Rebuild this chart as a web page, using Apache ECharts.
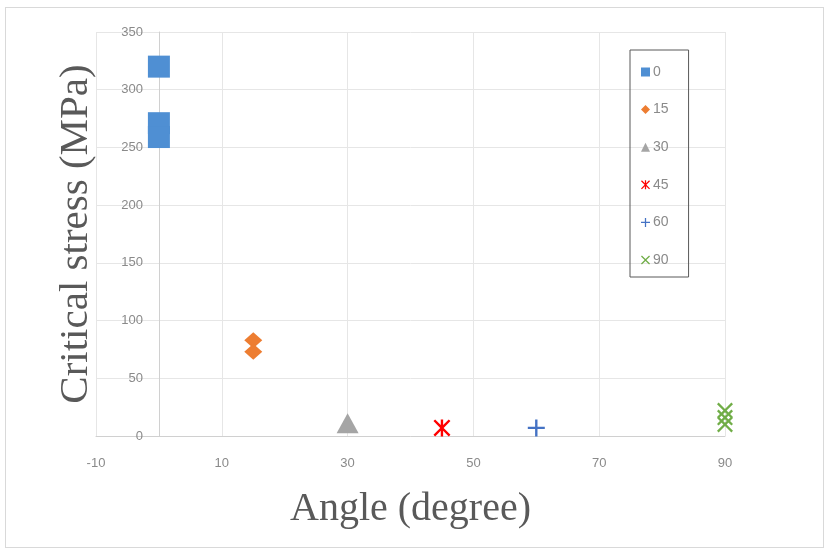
<!DOCTYPE html>
<html>
<head>
<meta charset="utf-8">
<script src="https://cdn.jsdelivr.net/npm/echarts@6/dist/echarts.min.js"></script>
<style>
html,body{margin:0;padding:0;background:#fff;}
#frame{position:absolute;left:5px;top:7px;width:819px;height:541px;border:1px solid #d9d9d9;box-sizing:border-box;}
#chart{position:absolute;left:0;top:0;width:830px;height:551px;}
</style>
</head>
<body>
<div id="frame"></div>
<div id="chart"></div>
<script>
const seriesNames = ['0', '15', '30', '45', '60', '90'];
const angles = [0, 15, 30, 45, 60, 90];
const stress0 = [320, 271, 259];
const stress15 = [83, 73];
const stress30 = [11];
const stress45 = [7];
const stress60 = [7];
const stress90 = [22, 16, 10];
const xTicks = [-10, 10, 30, 50, 70, 90];
const yTicks = [0, 50, 100, 150, 200, 250, 300, 350];

const allStress = [stress0, stress15, stress30, stress45, stress60, stress90];
const colors = ['#4f8fd3', '#ed7d31', '#a5a5a5', '#ff0000', '#4472c4', '#70ad47'];
const plusPath = 'path://M4.3,0 L5.7,0 L5.7,4.3 L10,4.3 L10,5.7 L5.7,5.7 L5.7,10 L4.3,10 L4.3,5.7 L0,5.7 L0,4.3 L4.3,4.3 Z';
const xPath = 'path://M1,0 L5,4 L9,0 L10,1 L6,5 L10,9 L9,10 L5,6 L1,10 L0,9 L4,5 L0,1 Z';
const starPath = 'path://M1,0 L4.3,3.3 L4.3,0 L5.7,0 L5.7,3.3 L9,0 L10,1 L6,5 L10,9 L9,10 L5.7,6.7 L5.7,10 L4.3,10 L4.3,6.7 L1,10 L0,9 L4,5 L0,1 Z';
const symbols = ['rect', 'diamond', 'triangle', starPath, plusPath, xPath];
const sizes = [22, [18, 16], [22, 20], 17, 17, 16];

const series = seriesNames.map((n, i) => ({
  name: n,
  type: 'scatter',
  symbol: symbols[i],
  symbolSize: sizes[i],
  itemStyle: { color: colors[i], opacity: 1 },
  data: allStress[i].map(v => [angles[i], v])
}));

const gridLeft = 96, gridRight = 105;
const plotWidth = 830 - gridLeft - gridRight;
const xMin = xTicks[0], xMax = xTicks[xTicks.length - 1];
// y axis crosses the x axis at x = 0 (as in the original)
const yAxisOffset = -plotWidth * (0 - xMin) / (xMax - xMin);

const chart = echarts.init(document.getElementById('chart'));
chart.setOption({
  animation: false,
  grid: { left: gridLeft, right: gridRight, top: 32, bottom: 115, containLabel: false, outerBoundsMode: 'none' },
  legend: {
    orient: 'vertical',
    left: 630, top: 50,
    padding: [15, 20, 10, 11],
    itemGap: 23.6,
    itemWidth: 9, itemHeight: 9,
    borderColor: '#595959', borderWidth: 1,
    textStyle: { color: '#8a8a8a', fontSize: 14, fontFamily: 'Liberation Sans, Arial', lineHeight: 14, padding: [0, 0, 0, -2] },
    data: seriesNames
  },
  xAxis: {
    type: 'value', min: xMin, max: xMax, interval: 20,
    name: 'Angle (degree)', nameLocation: 'middle', nameGap: 53, nameMoveOverlap: false,
    nameTextStyle: { fontFamily: 'Liberation Serif, Times New Roman, serif', fontSize: 40, color: '#595959' },
    axisLine: { onZero: true, lineStyle: { color: '#d0d0d0' } },
    axisTick: { show: false },
    axisLabel: { color: '#8a8a8a', fontSize: 13, margin: 21, fontFamily: 'Liberation Sans, Arial' },
    splitLine: { show: true, lineStyle: { color: '#e6e6e6' } }
  },
  yAxis: {
    type: 'value', min: yTicks[0], max: yTicks[yTicks.length - 1], interval: 50,
    offset: yAxisOffset,
    name: 'Critical stress (MPa)', nameLocation: 'middle', nameGap: 62, nameMoveOverlap: false,
    nameTextStyle: { fontFamily: 'Liberation Serif, Times New Roman, serif', fontSize: 41, color: '#595959' },
    axisLine: { show: true, onZero: false, lineStyle: { color: '#d0d0d0' } },
    axisTick: { show: false },
    axisLabel: { color: '#8a8a8a', fontSize: 13, margin: 16, fontFamily: 'Liberation Sans, Arial' },
    splitLine: { show: true, lineStyle: { color: '#e6e6e6' } }
  },
  series: series
});
</script>
</body>
</html>
